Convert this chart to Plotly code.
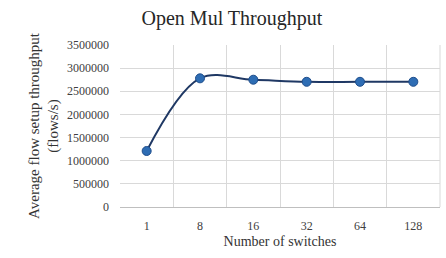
import plotly.graph_objects as go

switches = ["1", "8", "16", "32", "64", "128"]
throughput = [1210000, 2780000, 2750000, 2705000, 2705000, 2705000]
y_ticks = [0, 500000, 1000000, 1500000, 2000000, 2500000, 3000000, 3500000]

font_family = "Liberation Serif"

fig = go.Figure()
fig.add_trace(go.Scatter(
    x=switches, y=throughput, mode="lines+markers",
    line=dict(color="#1f3864", width=2, shape="spline", smoothing=1.0),
    marker=dict(color="#2e6db4", size=9, line=dict(color="#1f4e8c", width=1)),
    showlegend=False,
))

fig.update_layout(
    width=446, height=258,
    margin=dict(l=120, r=6, t=45, b=51),
    paper_bgcolor="white", plot_bgcolor="white",
    font=dict(family=font_family, color="#404040", size=12),
    title=dict(text="Open Mul Throughput", x=0.52, xanchor="center", y=0.93, yanchor="middle",
               font=dict(family=font_family, size=20, color="#262626")),
    xaxis=dict(
        type="category", tickson="boundaries", showgrid=True, gridcolor="#d9d9d9",
        gridwidth=1, showline=True, linecolor="#bfbfbf", ticks="", ticklen=0,
        ticklabelstandoff=8,
        title=dict(text="Number of switches", font=dict(family=font_family, size=14, color="#333333"), standoff=3),
        tickfont=dict(family=font_family, size=12, color="#404040"), range=[-0.5, 5.5],
    ),
    yaxis=dict(
        range=[0, 3500000], tickmode="array", tickvals=y_ticks, tickformat="d",
        showgrid=True, gridcolor="#d9d9d9", gridwidth=1, zeroline=False,
        showline=False, ticks="", ticklen=0, ticklabelstandoff=10,
        title=dict(text="Average flow setup throughput<br>(flows/s)", font=dict(family=font_family, size=15, color="#333333"), standoff=4),
        tickfont=dict(family=font_family, size=12, color="#404040"),
    ),
)
fig.add_shape(type="line", xref="paper", yref="paper", x0=1, x1=1, y0=0, y1=1,
              line=dict(color="#d9d9d9", width=1))

fig.write_html("out.html")
